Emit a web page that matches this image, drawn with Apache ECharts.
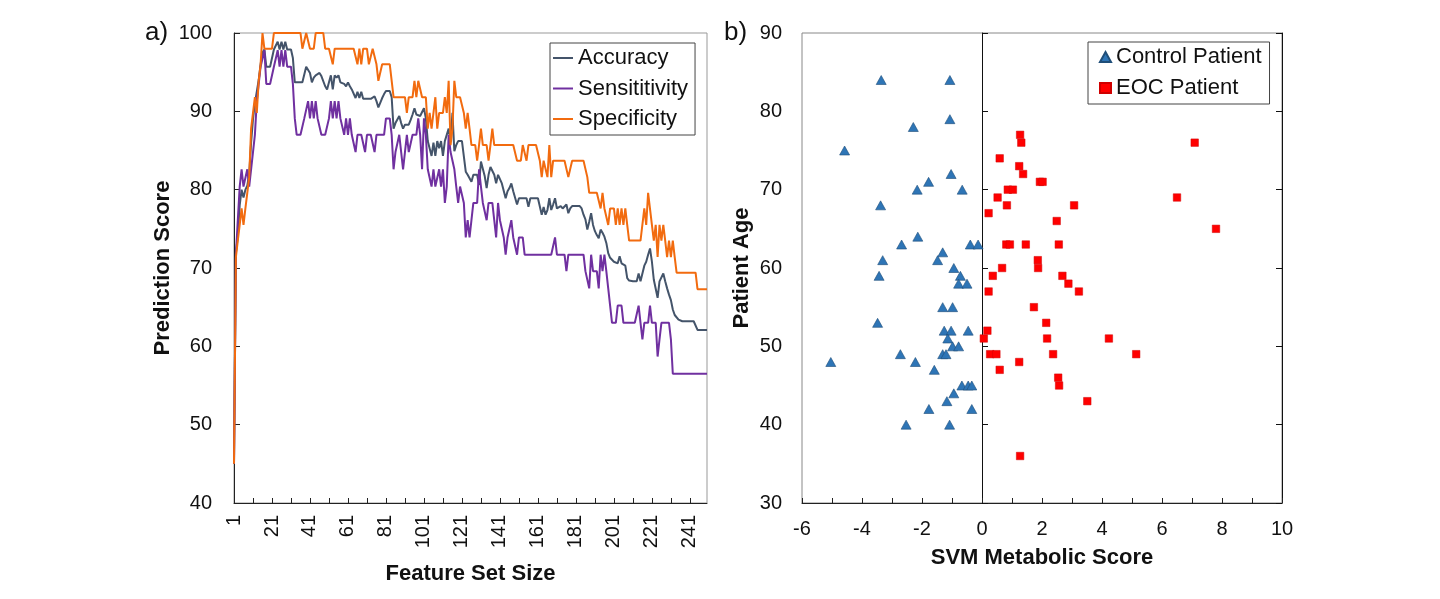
<!DOCTYPE html>
<html><head><meta charset="utf-8">
<script src="https://cdn.jsdelivr.net/npm/echarts@6/dist/echarts.min.js"></script>
<style>html,body{margin:0;padding:0;background:#fff}#c{width:1440px;height:599px}</style>
</head><body><div id="c"></div>
<script>
// ---- Panel a) data ----
const featureSetSize = Array.from({length: 250}, (_, k) => String(k + 1));
const accuracy = [
 45, 72, 74, 78, 80, 79, 80, 80.5, 82, 86,
 89, 91, 91, 94, 96, 97.5, 97.9, 95.7, 95.7, 95.7,
 95.7, 97.9, 97.9, 98.9, 97.9, 98.9, 97.9, 98.9, 97.9, 97.9,
 97.9, 96.8, 93.7, 93.7, 93.7, 93.7, 93.7, 93.7, 95.7, 95.7,
 94.9, 93.7, 94.3, 94.6, 94.6, 94.9, 94.5, 94.3, 93.2, 92.8,
 93.7, 94.6, 92.8, 94.6, 94.3, 94.6, 93.7, 93.7, 93.5, 93.2,
 93.7, 93.2, 92.8, 92.8, 91.7, 92.5, 91.7, 92.5, 91.6, 91.6,
 91.6, 91.6, 91.6, 91.6, 91.9, 91.3, 90.5, 90.5, 91.7, 92.2,
 92.6, 92.6, 92.6, 91.8, 87.8, 88.5, 88.3, 89.4, 88.5, 87.8,
 88.3, 88.3, 88.3, 88.9, 89.6, 90.4, 89.6, 89.4, 89.4, 89.4,
 90.4, 89.1, 86.2, 86.2, 84.3, 86.0, 84.3, 86.2, 85.3, 86.2,
 84.3, 86.2, 86.0, 87.8, 86.2, 89.8, 84.9, 85.7, 86.2, 86.2,
 86.2, 86.2, 82.3, 81.9, 81.7, 81.0, 81.9, 81.9, 81.9, 80.6,
 83.6, 83.4, 81.7, 80.2, 81.9, 82.9, 82.9, 81.9, 80.8, 81.9,
 81.9, 80.8, 80.6, 78.9, 79.8, 80.2, 80.8, 79.8, 79.8, 78.1,
 78.9, 78.9, 78.9, 78.9, 78.9, 77.8, 78.9, 78.9, 78.9, 78.9,
 78.9, 78.9, 76.8, 77.8, 76.8, 77.4, 78.9, 77.4, 78.1, 78.9,
 77.6, 77.8, 77.9, 77.6, 77.4, 78.1, 77.0, 77.6, 77.9, 77.9,
 77.9, 77.9, 77.9, 77.6, 76.8, 76.2, 74.9, 75.9, 77.0, 75.5,
 74.7, 74.2, 73.8, 74.9, 74.5, 74.0, 73.2, 71.9, 71.3, 71.3,
 70.8, 70.6, 70.6, 71.5, 70.6, 70.4, 70.3, 68.7, 68.4, 68.3,
 68.3, 68.3, 68.3, 69.3, 68.3, 68.3, 70.3, 70.8, 71.7, 72.5,
 70.8, 68.5, 68.3, 66.2, 68.3, 68.5, 69.3, 68.3, 67.4, 66.6,
 65.9, 64.7, 64.0, 64.2, 63.4, 63.2, 63.2, 63.2, 63.2, 63.2,
 63.2, 63.2, 63.2, 63.2, 62.1, 62.1, 62.1, 62.1, 62.1, 62.1
];
const sensitivity = [
 45, 71.7, 76.1, 80.4, 82.6, 80.4, 80.4, 82.6, 80.4, 82.6,
 82.6, 87.0, 91.3, 91.3, 95.7, 95.7, 97.8, 93.5, 93.5, 93.5,
 93.5, 95.7, 95.7, 97.8, 95.7, 97.8, 95.7, 97.8, 95.7, 95.7,
 95.7, 93.5, 89.1, 87.0, 87.0, 87.0, 87.0, 89.1, 89.1, 91.3,
 89.1, 91.3, 89.1, 91.3, 89.1, 89.1, 87.0, 87.0, 87.0, 87.0,
 89.1, 91.3, 89.1, 91.3, 89.1, 91.3, 89.1, 89.1, 87.0, 89.1,
 87.0, 89.1, 87.0, 87.0, 84.8, 87.0, 87.0, 87.0, 87.0, 84.8,
 87.0, 87.0, 87.0, 87.0, 84.8, 87.0, 87.0, 87.0, 87.0, 87.0,
 89.1, 89.1, 89.1, 87.0, 82.6, 84.8, 84.8, 87.0, 84.8, 82.6,
 84.8, 87.0, 84.8, 84.8, 87.0, 87.0, 87.0, 89.1, 87.0, 82.6,
 89.1, 87.0, 82.6, 82.6, 80.4, 82.6, 80.4, 80.4, 82.6, 80.4,
 82.6, 78.3, 80.4, 87.0, 84.8, 84.8, 82.6, 80.4, 78.3, 80.4,
 80.4, 78.3, 73.9, 76.1, 73.9, 76.1, 78.3, 78.3, 78.3, 82.6,
 80.4, 78.3, 78.3, 76.1, 78.3, 78.3, 78.3, 76.1, 73.9, 78.3,
 76.1, 76.1, 73.9, 71.7, 73.9, 73.9, 76.1, 73.9, 73.9, 71.7,
 73.9, 73.9, 73.9, 71.7, 71.7, 71.7, 71.7, 71.7, 71.7, 71.7,
 71.7, 71.7, 71.7, 71.7, 71.7, 71.7, 71.7, 71.7, 71.7, 73.9,
 71.7, 71.7, 71.7, 71.7, 71.7, 69.6, 71.7, 71.7, 71.7, 71.7,
 71.7, 71.7, 71.7, 71.7, 71.7, 69.6, 69.6, 67.4, 71.7, 69.6,
 69.6, 69.6, 67.4, 71.7, 69.6, 71.7, 69.6, 67.4, 65.2, 63.0,
 63.0, 63.0, 65.2, 65.2, 65.2, 63.0, 63.0, 63.0, 63.0, 63.0,
 63.0, 63.0, 63.0, 65.2, 63.0, 60.9, 63.0, 63.0, 63.0, 65.2,
 63.0, 63.0, 63.0, 58.7, 60.9, 63.0, 63.0, 63.0, 63.0, 63.0,
 60.9, 56.5, 56.5, 56.5, 56.5, 56.5, 56.5, 56.5, 56.5, 56.5,
 56.5, 56.5, 56.5, 56.5, 56.5, 56.5, 56.5, 56.5, 56.5, 56.5
];
const specificity = [
 45, 71.4, 73.5, 75.5, 77.6, 75.5, 77.6, 79.6, 81.6, 87.8,
 89.8, 91.8, 89.8, 93.9, 96, 100, 98, 98, 98, 98,
 98, 100, 100, 100, 100, 100, 100, 100, 100, 100,
 100, 100, 100, 100, 100, 100, 98, 98, 100, 100,
 98, 98, 98, 100, 100, 100, 100, 100, 98, 98,
 98, 98, 96, 98, 98, 98, 98, 98, 98, 98,
 98, 98, 98, 98, 98, 96, 98, 96, 98, 98,
 98, 96, 96, 98, 98, 96, 93.9, 93.9, 96, 96,
 96, 96, 96, 96, 91.8, 91.8, 91.8, 91.8, 91.8, 91.8,
 91.8, 89.8, 91.8, 91.8, 91.8, 93.9, 91.8, 93.9, 93.9, 91.8,
 91.8, 91.8, 87.8, 89.8, 87.8, 87.8, 91.8, 87.8, 89.8, 89.8,
 89.8, 91.8, 89.8, 93.9, 85.7, 87.8, 93.9, 91.8, 91.8, 91.8,
 91.8, 89.8, 87.8, 89.8, 87.8, 85.7, 85.7, 85.7, 83.7, 85.7,
 87.8, 85.7, 85.7, 85.7, 83.7, 85.7, 87.8, 85.7, 85.7, 85.7,
 85.7, 85.7, 85.7, 85.7, 85.7, 85.7, 85.7, 85.7, 85.7, 83.7,
 83.7, 83.7, 85.7, 85.7, 83.7, 85.7, 85.7, 85.7, 85.7, 85.7,
 85.7, 83.7, 81.6, 83.7, 83.7, 81.6, 85.7, 81.6, 83.7, 83.7,
 83.7, 83.7, 83.7, 83.7, 83.7, 83.7, 81.6, 81.6, 83.7, 83.7,
 83.7, 83.7, 83.7, 83.7, 83.7, 83.7, 81.6, 79.6, 79.6, 79.6,
 79.6, 79.6, 79.6, 77.6, 79.6, 77.6, 77.6, 75.5, 77.6, 77.6,
 77.6, 75.5, 77.6, 75.5, 77.6, 75.5, 77.6, 75.5, 73.5, 73.5,
 73.5, 73.5, 73.5, 73.5, 73.5, 73.5, 77.6, 75.5, 79.6, 79.6,
 75.5, 73.5, 75.5, 71.4, 75.5, 73.5, 75.5, 73.5, 71.4, 73.5,
 71.4, 73.5, 71.4, 69.4, 69.4, 69.4, 69.4, 69.4, 69.4, 69.4,
 69.4, 69.4, 69.4, 69.4, 67.3, 67.3, 67.3, 67.3, 67.3, 67.3
];

// ---- Panel b) data ----
const controlScore = [-3.36, -1.07, -1.07, -2.29, -4.58, -1.03, -1.78, -2.16, -0.66, -3.38,
  -2.14, -2.68, -0.39, -0.13, -1.31, -1.48, -3.31, -0.94, -3.43, -0.72,
  -0.78, -0.5, -1.31, -0.98, -3.48, -1.26, -1.03, -0.46, -1.14, -0.98,
  -0.78, -2.72, -1.31, -1.2, -5.04, -2.22, -1.59, -0.67, -0.46, -0.34,
  -0.94, -1.17, -1.77, -0.34, -2.53, -1.08];
const controlAge = [84, 84, 79, 78, 75, 72, 71, 70, 70, 68,
  64, 63, 63, 63, 62, 61, 61, 60, 59, 59,
  58, 58, 55, 55, 53, 52, 52, 52, 51, 50,
  50, 49, 49, 49, 48, 48, 47, 45, 45, 45,
  44, 43, 42, 42, 40, 40];
const eocScore = [1.27, 1.31, 7.09, 0.59, 1.24, 1.37, 1.93, 2.02, 0.86, 1.03,
  0.52, 6.5, 0.83, 3.07, 0.22, 2.49, 7.8, 0.81, 0.93, 1.46,
  2.56, 1.86, 0.67, 1.87, 0.36, 2.68, 2.88, 0.22, 3.23, 1.73,
  2.14, 0.18, 0.06, 2.17, 4.23, 0.27, 0.48, 2.37, 5.14, 1.24,
  0.59, 2.54, 2.57, 3.51, 1.27];
const eocAge = [77, 76, 76, 74, 73, 72, 71, 71, 70, 70,
  69, 69, 68, 68, 67, 66, 65, 63, 63, 63,
  63, 61, 60, 60, 59, 59, 58, 57, 57, 55,
  53, 52, 51, 51, 51, 49, 49, 49, 49, 48,
  47, 46, 45, 43, 36];

const FONT = "'Liberation Sans', Arial, sans-serif";
const TXT = '#111';
const labelStyle = {fontSize: 20, color: TXT, fontFamily: FONT};
const nameStyle = {fontSize: 22, fontWeight: 'bold', color: TXT, fontFamily: FONT};

const chart = echarts.init(document.getElementById('c'));
chart.setOption({
  animation: false,
  textStyle: {fontFamily: FONT},
  graphic: [
    {type: 'text', left: 145, top: 20, style: {text: 'a)', font: "26px 'Liberation Sans', Arial", fill: TXT}},
    {type: 'text', left: 724, top: 20, style: {text: 'b)', font: "26px 'Liberation Sans', Arial", fill: TXT}}
  ],
  grid: [
    {left: 234, top: 33, width: 473, height: 470, show: true, borderColor: '#999', borderWidth: 1},
    {left: 802, top: 33, width: 480, height: 470, show: true, borderColor: '#888', borderWidth: 1}
  ],
  legend: [
    {data: ['Accuracy', 'Sensititivity', 'Specificity'], orient: 'vertical', left: 550, top: 43,
     icon: 'rect', padding: [3, 7, 4, 3], itemGap: 6.5, itemWidth: 20, itemHeight: 2,
     borderColor: '#444', borderWidth: 1, backgroundColor: '#fff',
     textStyle: {fontSize: 22, color: TXT, lineHeight: 24, fontFamily: FONT}},
    {data: ['Control Patient', 'EOC Patient'], orient: 'vertical', left: 1088, top: 42,
     padding: [3, 8, 4, 11], itemGap: 7, itemWidth: 11, itemHeight: 10,
     borderColor: '#444', borderWidth: 1, backgroundColor: '#fff',
     textStyle: {fontSize: 22, color: TXT, lineHeight: 24, fontFamily: FONT}}
  ],
  xAxis: [
    {type: 'category', gridIndex: 0, data: featureSetSize, boundaryGap: false,
     axisLine: {show: true, onZero: false, lineStyle: {color: '#222'}},
     axisTick: {show: true, inside: true, length: 5, interval: 9, lineStyle: {color: '#222'}},
     axisLabel: Object.assign({interval: 19, rotate: 90, margin: 12}, labelStyle),
     splitLine: {show: false},
     name: 'Feature Set Size', nameLocation: 'middle', nameGap: 60, nameTextStyle: nameStyle},
    {type: 'value', gridIndex: 1, min: -6, max: 10, interval: 1,
     axisLine: {show: true, onZero: false, lineStyle: {color: '#222'}},
     axisTick: {show: true, inside: true, length: 5, lineStyle: {color: '#222'}},
     axisLabel: Object.assign({margin: 16, formatter: v => (v % 2 === 0 ? String(v) : '')}, labelStyle),
     splitLine: {show: false},
     name: 'SVM Metabolic Score', nameLocation: 'middle', nameGap: 44, nameTextStyle: nameStyle}
  ],
  yAxis: [
    {type: 'value', gridIndex: 0, min: 40, max: 100, interval: 10,
     axisLine: {show: true, onZero: false, lineStyle: {color: '#222'}},
     axisTick: {show: true, inside: true, length: 6, lineStyle: {color: '#222'}},
     axisLabel: Object.assign({margin: 22}, labelStyle),
     splitLine: {show: false},
     name: 'Prediction Score', nameLocation: 'middle', nameGap: 60, nameRotate: 90, nameTextStyle: nameStyle},
    {type: 'value', gridIndex: 1, min: 30, max: 90, interval: 10,
     axisLine: {show: false, onZero: false}, axisTick: {show: false},
     axisLabel: Object.assign({margin: 20}, labelStyle),
     splitLine: {show: false},
     name: 'Patient Age', nameLocation: 'middle', nameGap: 49, nameRotate: 90, nameTextStyle: nameStyle},
    {type: 'value', gridIndex: 1, min: 30, max: 90, interval: 10,
     axisLine: {show: true, onZero: true, lineStyle: {color: '#111'}},
     axisTick: {show: true, inside: false, length: 6, lineStyle: {color: '#111'}},
     axisLabel: {show: false}, splitLine: {show: false}},
    {type: 'value', gridIndex: 1, min: 30, max: 90, interval: 10,
     axisLine: {show: true, onZero: true, lineStyle: {color: '#111'}},
     axisTick: {show: true, inside: true, length: 6, lineStyle: {color: '#111'}},
     axisLabel: {show: false}, splitLine: {show: false}}
  ],
  series: [
    {name: 'Accuracy', type: 'line', xAxisIndex: 0, yAxisIndex: 0, data: accuracy, symbol: 'none',
     lineStyle: {color: '#44546A', width: 2}, itemStyle: {color: '#44546A'}},
    {name: 'Sensititivity', type: 'line', xAxisIndex: 0, yAxisIndex: 0, data: sensitivity, symbol: 'none',
     lineStyle: {color: '#7030A0', width: 2}, itemStyle: {color: '#7030A0'}},
    {name: 'Specificity', type: 'line', xAxisIndex: 0, yAxisIndex: 0, data: specificity, symbol: 'none',
     lineStyle: {color: '#F26B0F', width: 2}, itemStyle: {color: '#F26B0F'}},
    {name: 'Control Patient', type: 'scatter', xAxisIndex: 1, yAxisIndex: 1,
     data: controlScore.map((s, k) => [s, controlAge[k]]), symbol: 'triangle', symbolSize: [10, 9],
     itemStyle: {color: '#2E75B6', borderColor: '#1F4E79', borderWidth: 0.6, opacity: 1}},
    {name: 'EOC Patient', type: 'scatter', xAxisIndex: 1, yAxisIndex: 1,
     data: eocScore.map((s, k) => [s, eocAge[k]]), symbol: 'rect', symbolSize: 7.5,
     itemStyle: {color: '#FF0000', borderColor: '#D00000', borderWidth: 0.5, opacity: 1}}
  ]
});
</script>
</body></html>
